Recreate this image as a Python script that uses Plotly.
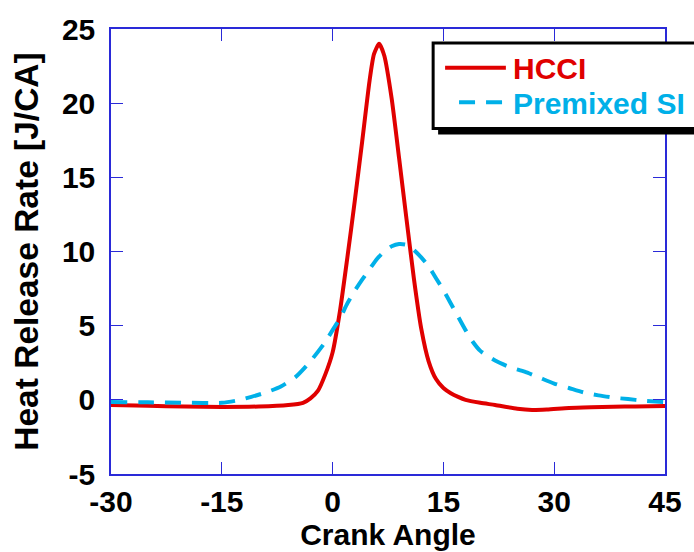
import plotly.graph_objects as go

# Crank angle samples and heat release rates
hcci_x = [-30, -25, -20, -15, -10, -6, -4, -3, -2, -1, 0, 1, 2, 3, 4, 5, 5.6, 6.3, 7, 8, 9, 10, 11, 12, 13, 14, 15, 16, 17, 18, 20, 22, 25, 27, 29, 32, 35, 38, 41, 45]
hcci_y = [-0.35, -0.4, -0.45, -0.48, -0.45, -0.35, -0.2, 0.1, 0.6, 1.7, 3.2, 6.0, 9.6, 13.4, 17.4, 21.5, 23.3, 24.0, 23.2, 20.3, 16.3, 12.2, 8.2, 4.8, 2.6, 1.4, 0.8, 0.45, 0.2, 0.0, -0.2, -0.35, -0.6, -0.68, -0.65, -0.55, -0.5, -0.46, -0.45, -0.42]

si_x = [-30, -25, -20, -15, -13, -11, -9, -7, -5, -3, -1, 0, 1, 2, 3, 4, 5, 6, 7, 8, 9, 10, 11, 12, 13, 14, 15, 16, 17, 18, 19, 20, 22, 24, 26, 28, 30, 32, 34, 36, 38, 40, 42, 45]
si_y = [-0.15, -0.17, -0.2, -0.2, -0.05, 0.2, 0.5, 0.9, 1.55, 2.6, 3.9, 4.7, 5.5, 6.5, 7.35, 8.1, 8.8, 9.5, 10.0, 10.35, 10.5, 10.45, 10.1, 9.6, 9.0, 8.2, 7.4, 6.5, 5.6, 4.7, 3.9, 3.3, 2.65, 2.2, 1.9, 1.5, 1.1, 0.8, 0.5, 0.3, 0.15, 0.05, -0.05, -0.15]

x_ticks = [-30, -15, 0, 15, 30, 45]
y_ticks = [-5, 0, 5, 10, 15, 20, 25]

series_names = ["HCCI", "Premixed SI"]
RED = "#e00000"
BLUE = "#00b0e8"
AXIS = "#2a2ad8"
FONT = "Liberation Sans, Arial, sans-serif"

fig = go.Figure()
fig.add_trace(go.Scatter(x=hcci_x, y=hcci_y, mode="lines", name=series_names[0],
                         line=dict(color=RED, width=4, shape="spline", smoothing=0.6)))
fig.add_trace(go.Scatter(x=si_x, y=si_y, mode="lines", name=series_names[1],
                         line=dict(color=BLUE, width=4, dash="16px,11px", shape="spline", smoothing=0.6)))

axis_common = dict(showgrid=False, zeroline=False, showline=True, linecolor=AXIS, linewidth=1.5,
                   mirror="ticks", ticks="inside", ticklen=12, tickwidth=1.2, tickcolor=AXIS,
                   tickfont=dict(family=FONT, size=30, color="black", weight="bold"))

fig.update_xaxes(range=[-30, 45], tickvals=x_ticks, ticktext=[str(v) for v in x_ticks],
                 title=dict(text="<b>Crank Angle</b>", font=dict(family=FONT, size=30, color="black"), standoff=1),
                 **axis_common)
fig.update_yaxes(range=[-5, 25], tickvals=y_ticks, ticktext=[str(v) for v in y_ticks],
                 ticklabelstandoff=8,
                 title=dict(text="<b>Heat Release Rate [J/CA]</b>", font=dict(family=FONT, size=33.5, color="black"), standoff=13),
                 **axis_common)

# Legend drawn manually (box with drop shadow, extending past the right edge)
def px_x(px):
    return (px - 110.7) / 556.0

def px_y(py):
    return (480.0 - py) / 457.3

shapes = [
    dict(type="rect", xref="paper", yref="paper", x0=px_x(439), x1=px_x(720), y0=px_y(131), y1=px_y(42),
         fillcolor="black", line=dict(width=0), layer="above"),
    dict(type="rect", xref="paper", yref="paper", x0=px_x(434), x1=px_x(720), y0=px_y(125), y1=px_y(37),
         fillcolor="white", line=dict(color="black", width=3), layer="above"),
    dict(type="line", xref="paper", yref="paper", x0=px_x(446), x1=px_x(507), y0=px_y(62.5), y1=px_y(62.5),
         line=dict(color=RED, width=4), layer="above"),
    dict(type="line", xref="paper", yref="paper", x0=px_x(460), x1=px_x(505), y0=px_y(98), y1=px_y(98),
         line=dict(color=BLUE, width=4, dash="16px,11px"), layer="above"),
]
annotations = [
    dict(xref="paper", yref="paper", x=px_x(512), y=px_y(63), xanchor="left", yanchor="middle",
         text="<b>" + series_names[0] + "</b>", showarrow=False, font=dict(family=FONT, size=30, color=RED)),
    dict(xref="paper", yref="paper", x=px_x(512), y=px_y(99), xanchor="left", yanchor="middle",
         text="<b>" + series_names[1] + "</b>", showarrow=False, font=dict(family=FONT, size=30, color=BLUE)),
]

fig.update_layout(width=694, height=552, margin=dict(l=110.7, r=27.3, t=22.7, b=72),
                  paper_bgcolor="white", plot_bgcolor="white", showlegend=False,
                  shapes=shapes, annotations=annotations)

fig.write_html("out.html")
